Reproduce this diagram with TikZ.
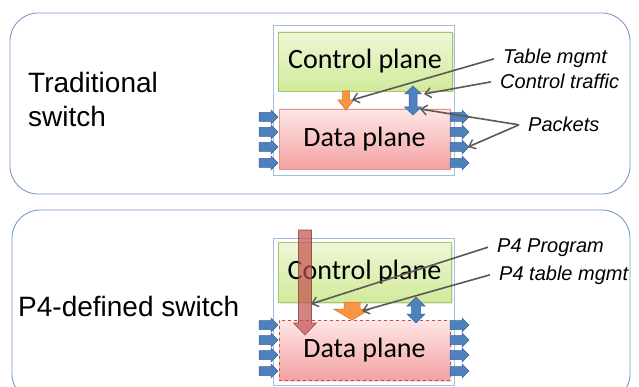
\documentclass[tikz,border=0pt]{standalone}
\usepackage{fontspec}
\setmainfont{Liberation Sans}
\newfontfamily\calib{Carlito}
\usetikzlibrary{arrows.meta,shadows}
\definecolor{panelblue}{HTML}{7A9CC8}
\definecolor{frameblue}{HTML}{A3BDDD}
\definecolor{greentop}{HTML}{EEF7D9}
\definecolor{greenbot}{HTML}{D2EA9A}
\definecolor{greenborder}{HTML}{A9C66A}
\definecolor{redtop}{HTML}{FFE6E6}
\definecolor{redbot}{HTML}{F3A2A2}
\definecolor{redborder}{HTML}{E39494}
\definecolor{reddash}{HTML}{C0504D}
\definecolor{orangefill}{HTML}{F79646}
\definecolor{orangeline}{HTML}{E46C0A}
\definecolor{bluefill}{HTML}{4F81BD}
\definecolor{blueline}{HTML}{3A66A0}
\definecolor{graylink}{HTML}{595959}
\definecolor{brownfill}{HTML}{C0504D}
\definecolor{brownline}{HTML}{943634}
\begin{document}
\begin{tikzpicture}[x=1pt,y=-1pt,
  panel/.style={draw=panelblue,line width=0.9pt,rounded corners=28pt,fill=white},
  frame/.style={draw=frameblue,line width=0.9pt,fill=white},
  cpbox/.style={draw=greenborder,line width=0.6pt,top color=greentop,bottom color=greenbot,
     drop shadow={opacity=0.18,shadow xshift=1.5pt,shadow yshift=-1.5pt},
     inner sep=0pt,font=\calib\fontsize{28}{32}\selectfont},
  dpbox/.style={draw=redborder,line width=0.6pt,top color=redtop,bottom color=redbot,
     drop shadow={opacity=0.18,shadow xshift=1.5pt,shadow yshift=-1.5pt},
     inner sep=0pt,font=\calib\fontsize{28}{32}\selectfont},
  portarrow/.style={fill=bluefill,draw=blueline,line width=0.5pt},
  bluearrow/.style={fill=bluefill,draw=blueline,line width=0.5pt},
  orangearrow/.style={fill=orangefill,draw=orangeline,line width=0.5pt},
  brownarrow/.style={fill=brownfill,fill opacity=0.7,draw=brownline,draw opacity=0.8,line width=0.6pt},
  lbl/.style={font=\itshape\fontsize{20}{24}\selectfont,inner xsep=9pt,inner ysep=0pt},
  big/.style={font=\fontsize{28}{34}\selectfont,inner sep=0pt},
  link/.style={draw=graylink,line width=1.6pt,-{Straight Barb[length=6pt,width=10pt,line width=1.4pt]}},
  port/.pic={\filldraw[portarrow] (0,-4.5)--(12,-4.5)--(12,-7)--(19,0)--(12,7)--(12,4.5)--(0,4.5)--cycle;}
]
\useasboundingbox (0,0) rectangle (639,387);
\clip (0,0) rectangle (639,387);

% ---------- panels ----------
\draw[panel] (10,13) rectangle (630,194);
\draw[panel] (12,210) rectangle (630,402);

\node[big,anchor=base west,align=left] (trad) at (28,127) {Traditional\\[0pt]switch};
\node[big,anchor=base west] (p4sw) at (18,316) {P4-defined switch};

% ---------- top switch ----------
\draw[frame] (273,25) rectangle (454,175);
\node[cpbox,minimum width=174,minimum height=59] (cp1) at (365,61.5) {Control plane};
\node[dpbox,minimum width=171,minimum height=60] (dp1) at (364.5,139) {Data plane};

\foreach \yy in {117,132,147,163}{
  \pic at (259,\yy) {port};
  \pic at (450,\yy) {port};
}
% orange table-mgmt arrow
\filldraw[orangearrow] (342.5,91)--(349.5,91)--(349.5,100)--(354,100)--(346,110)--(338,100)--(342.5,100)--cycle;
% blue control-traffic double arrow
\filldraw[bluearrow] (413,86)--(421.5,94)--(417,94)--(417,107)--(421.5,107)--(413,115)--(404.5,107)--(409,107)--(409,94)--(404.5,94)--cycle;

\coordinate (t1) at (352,100);
\coordinate (t2) at (424,94);
\coordinate (t3) at (420,109);
\coordinate (t4) at (468,147);

\node[lbl,anchor=base west] (tm) at (494,64) {Table mgmt};
\node[lbl,anchor=base west] (ct) at (491,89) {Control traffic};
\node[lbl,anchor=base west] (pk) at (519,132) {Packets};

\draw[link] (tm.west) -- (t1);
\draw[link] (ct.west) -- (t2);
\draw[link] (pk.west) -- (t3);
\draw[link] (pk.west) -- (t4);

% ---------- bottom switch ----------
\draw[frame] (273,238) rectangle (454,385);
\node[cpbox,minimum width=173,minimum height=60] (cp2) at (364.5,272) {Control plane};
\node[dpbox,draw=reddash,dashed,line width=0.5pt,minimum width=171,minimum height=60] (dp2) at (364.5,350) {Data plane};

\foreach \yy in {325,340,355,371}{
  \pic at (259,\yy) {port};
  \pic at (450,\yy) {port};
}
% orange P4 table mgmt arrow
\filldraw[orangearrow] (344,302)--(360,302)--(360,309)--(370.5,309)--(352,320)--(333.5,309)--(344,309)--cycle;
% blue double arrow
\filldraw[bluearrow] (416,297)--(425,306)--(420.5,306)--(420.5,314)--(425,314)--(416,323)--(407,314)--(411.5,314)--(411.5,306)--(407,306)--cycle;
% brown P4 program arrow
\filldraw[brownarrow] (298.5,230)--(311.5,230)--(311.5,323)--(316.5,323)--(305,335)--(293.5,323)--(298.5,323)--cycle;

\coordinate (b1) at (311,304);
\coordinate (b2) at (362,311);

\node[lbl,anchor=base west] (pp) at (488,252) {P4 Program};
\node[lbl,anchor=base west] (pt) at (490,280) {P4 table mgmt};

\draw[link] (pp.west) -- (b1);
\draw[link] (pt.west) -- (b2);
\end{tikzpicture}
\end{document}
